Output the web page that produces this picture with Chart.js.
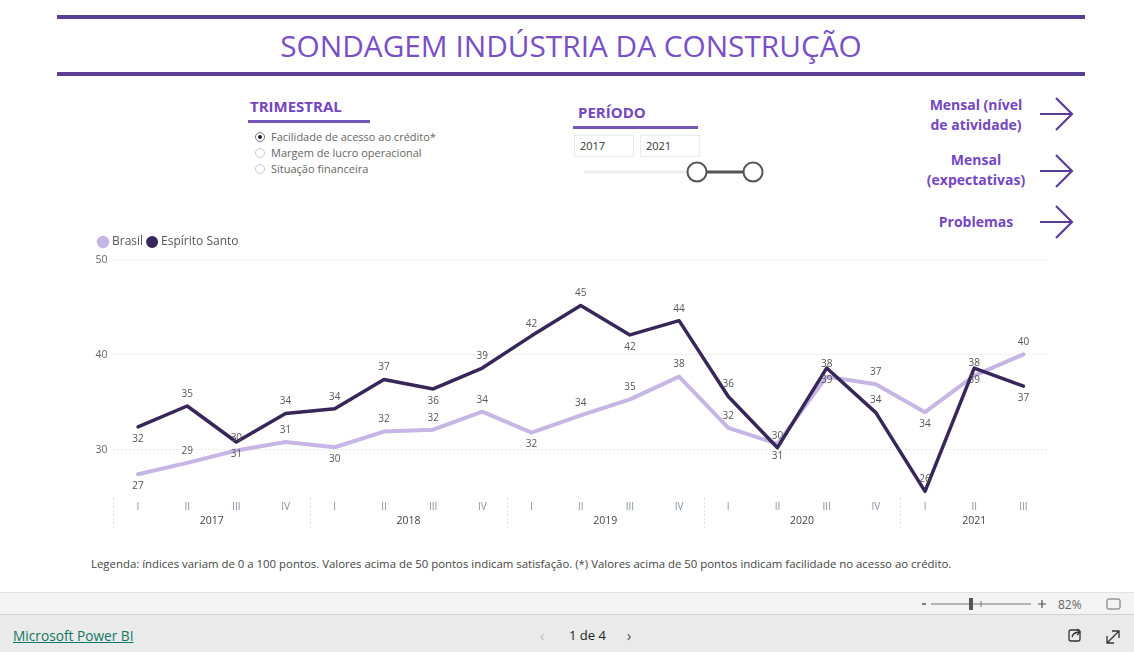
<!DOCTYPE html>
<html><head><meta charset="utf-8">
<script src="https://cdn.jsdelivr.net/npm/chart.js@4.4.1/dist/chart.umd.min.js"></script>
<style>
html,body{margin:0;padding:0;background:#fff;width:1134px;height:652px;overflow:hidden;font-family:'Segoe UI','Open Sans','Noto Sans',sans-serif;}
.abs{position:absolute;}
.bar{position:absolute;left:57px;width:1028px;height:4px;background:#5a3f96;}
#title{position:absolute;left:0;width:1142px;top:25px;text-align:center;font-size:29.8px;color:#7a4fc6;white-space:nowrap;}
.hdr{position:absolute;font-weight:700;font-size:15px;color:#7446c2;}
.uline{position:absolute;height:3px;background:#7456b8;}
.radio{position:absolute;left:255px;font-size:11px;color:#666;white-space:nowrap;}
.radio span.c{display:inline-block;width:8px;height:8px;border:1px solid #c8c8c8;border-radius:50%;vertical-align:-1px;margin-right:6px;position:relative;}
.radio span.c.on{border-color:#777;}
.radio span.c.on:after{content:'';position:absolute;left:2px;top:2px;width:4px;height:4px;border-radius:50%;background:#222;}
.inp{position:absolute;top:135px;width:60px;height:22px;border:1px solid #eaeaea;font-size:11px;color:#333;line-height:20px;padding-left:5px;box-sizing:border-box;}
.link{position:absolute;font-weight:700;font-size:14px;color:#7446c2;text-align:center;width:130px;line-height:20px;}
#note{position:absolute;left:91px;top:556px;font-size:11.4px;color:#444;white-space:nowrap;}
#chartbox{position:absolute;left:88px;top:232px;width:960px;height:315px;}
</style></head>
<body>
<div class="bar" style="top:15px"></div>
<div id="title">SONDAGEM INDÚSTRIA DA CONSTRUÇÃO</div>
<div class="bar" style="top:72px"></div>

<div class="hdr" style="left:250px;top:96px;">TRIMESTRAL</div>
<div class="uline" style="left:248px;top:120px;width:122px;"></div>
<div class="radio" style="top:129px;"><span class="c on"></span>Facilidade de acesso ao crédito*</div>
<div class="radio" style="top:145px;"><span class="c"></span>Margem de lucro operacional</div>
<div class="radio" style="top:161px;"><span class="c"></span>Situação financeira</div>

<div class="hdr" style="left:578px;top:102px;">PERÍODO</div>
<div class="uline" style="left:573px;top:126px;width:125px;"></div>
<div class="inp" style="left:574px;">2017</div>
<div class="inp" style="left:640px;">2021</div>
<svg class="abs" style="left:580px;top:158px" width="195" height="30">
<line x1="4" y1="14" x2="117" y2="14" stroke="#eeeeee" stroke-width="3"/>
<line x1="117" y1="14" x2="173" y2="14" stroke="#555" stroke-width="3"/>
<circle cx="117" cy="14" r="9.5" fill="#fff" stroke="#555" stroke-width="2"/>
<circle cx="173" cy="14" r="9.5" fill="#fff" stroke="#555" stroke-width="2"/>
</svg>

<div class="link" style="left:911px;top:95px;">Mensal (nível<br>de atividade)</div>
<div class="link" style="left:911px;top:150px;">Mensal<br>(expectativas)</div>
<div class="link" style="left:911px;top:212px;">Problemas</div>
<svg class="abs" style="left:1036px;top:94px" width="42" height="150">
<g fill="none" stroke="#5b3d99" stroke-width="2.2">
<path d="M4 20 H36 M20 4 L36 20 L20 36"/>
<path d="M4 77 H36 M20 61 L36 77 L20 93"/>
<path d="M4 128 H36 M20 112 L36 128 L20 144"/>
</g></svg>

<div id="chartbox"><canvas id="c"></canvas></div>

<div id="note">Legenda: índices variam de 0 a 100 pontos. Valores acima de 50 pontos indicam satisfação. (*) Valores acima de 50 pontos indicam facilidade no acesso ao crédito.</div>

<div class="abs" style="left:0;top:592px;width:1134px;height:23px;background:#f3f3f3;border-top:1px solid #e3e3e3;border-bottom:1px solid #d0d0d0;box-sizing:border-box;"></div>
<svg class="abs" style="left:915px;top:592px" width="219" height="23">
<line x1="7" y1="12" x2="11" y2="12" stroke="#555" stroke-width="1.5"/>
<line x1="16" y1="12" x2="116" y2="12" stroke="#777" stroke-width="1"/>
<rect x="54" y="6" width="4" height="12" fill="#555"/>
<line x1="66" y1="9" x2="66" y2="15" stroke="#777" stroke-width="1"/>
<path d="M123 12 H131 M127 8 V16" stroke="#555" stroke-width="1.2"/>
<text x="143" y="16.5" font-size="12" fill="#666" font-family="Segoe UI,Open Sans,sans-serif">82%</text>
<rect x="192" y="7" width="13" height="10" rx="1.5" fill="none" stroke="#666" stroke-width="1"/>
</svg>
<div class="abs" style="left:0;top:615px;width:1134px;height:37px;background:#eaeaea;"></div>
<div class="abs" style="left:13px;top:626px;font-size:13.7px;color:#117865;text-decoration:underline;">Microsoft Power BI</div>
<div class="abs" style="left:540px;top:626px;font-size:14px;color:#bbb;">‹</div>
<div class="abs" style="left:569px;top:626px;font-size:13px;color:#222;">1 de 4</div>
<div class="abs" style="left:627px;top:626px;font-size:14px;color:#444;">›</div>
<svg class="abs" style="left:1060px;top:624px" width="70" height="24">
<g fill="none" stroke="#333" stroke-width="1.3">
<rect x="9" y="6" width="11" height="11" rx="2"/>
<path d="M12 13 C13 9 16 8 20 8 M17 5 L20 8 L17 11"/>
<path d="M47 19 L59 7 M52 7 H59 V14 M47 12 V19 H54"/>
</g></svg>

<script>
const quarters = ['I','II','III','IV','I','II','III','IV','I','II','III','IV','I','II','III','IV','I','II','III'];
const years = ['2017','2017','2017','2017','2018','2018','2018','2018','2019','2019','2019','2019','2020','2020','2020','2020','2021','2021','2021'];
const brasil = [27.4, 28.6, 29.9, 30.8, 30.25, 31.9, 32.1, 34.0, 31.8, 33.6, 35.3, 37.7, 32.3, 30.6, 37.7, 36.9, 33.95, 37.8, 40.05];
const espiritoSanto = [32.4, 34.6, 30.8, 33.8, 34.3, 37.4, 36.4, 38.6, 42.0, 45.2, 42.1, 43.6, 35.6, 30.2, 38.6, 33.9, 25.6, 38.6, 36.7];
const yTicks = [30, 40, 50];
// label placement: 1 = above, -1 = below
const sideBrasil = [-1,1,1,1,-1,1,1,1,-1,1,1,1,1,-1,1,1,-1,1,1];
const sideES = [-1,1,-1,1,1,1,-1,1,1,1,-1,1,1,1,-1,1,1,-1,-1];

const valueLabels = {
  id:'valueLabels',
  afterLayout(chart){
    if (chart.legend) { chart.legend.left += 6; chart.legend.right += 6; chart.legend.top -= 2; chart.legend.bottom -= 2; }
  },
  afterDatasetsDraw(chart){
    const ctx = chart.ctx;
    ctx.save();
    ctx.font = '10px "Segoe UI","Open Sans",sans-serif';
    ctx.fillStyle = '#555';
    ctx.textAlign = 'center';
    ctx.textBaseline = 'middle';
    chart.data.datasets.forEach((ds, di) => {
      const meta = chart.getDatasetMeta(di);
      const sides = ds.labelSides;
      meta.data.forEach((pt, i) => {
        const v = ds.data[i];
        ctx.fillText(String(Math.round(v)), pt.x, pt.y - 12 * sides[i]);
      });
    });
    ctx.restore();
  }
};

const yearAxis = {
  id:'yearAxis',
  afterDraw(chart){
    const x = chart.scales.x, ctx = chart.ctx, area = chart.chartArea;
    const step = x.getPixelForValue(1) - x.getPixelForValue(0);
    ctx.save();
    ctx.font = '10.5px "Segoe UI","Open Sans",sans-serif';
    ctx.fillStyle = '#444';
    ctx.textAlign = 'center';
    ctx.textBaseline = 'middle';
    const groups = [];
    years.forEach((y, i) => {
      if (!groups.length || groups[groups.length-1].y !== y) groups.push({y, s:i, e:i});
      else groups[groups.length-1].e = i;
    });
    groups.forEach(g => {
      const cx = (x.getPixelForValue(g.s) + x.getPixelForValue(g.e)) / 2;
      ctx.fillText(g.y, cx, area.bottom + 24);
      const sx = x.getPixelForValue(g.s) - step/2;
      ctx.strokeStyle = '#d4d4d4';
      ctx.lineWidth = 1;
      ctx.setLineDash([1.5, 2.5]);
      ctx.beginPath();
      ctx.moveTo(Math.round(sx)+0.5, area.bottom + 1);
      ctx.lineTo(Math.round(sx)+0.5, area.bottom + 33);
      ctx.stroke();
    });
    ctx.restore();
  }
};

new Chart(document.getElementById('c'), {
  type:'line',
  data:{
    labels: quarters,
    datasets:[
      {label:'Brasil', data:brasil, borderColor:'#c6b6e6', backgroundColor:'#c6b6e6', borderWidth:4, pointRadius:0, pointHoverRadius:0, tension:0, order:1, labelSides:sideBrasil, borderCapStyle:'round', borderJoinStyle:'round'},
      {label:'Espírito Santo', data:espiritoSanto, borderColor:'#372658', backgroundColor:'#372658', borderWidth:3.5, pointRadius:0, pointHoverRadius:0, tension:0, order:0, labelSides:sideES, borderCapStyle:'round', borderJoinStyle:'round'}
    ]
  },
  options:{
    responsive:true, maintainAspectRatio:false, animation:false,
    layout:{padding:{left:0,right:0,top:0,bottom:0}},
    plugins:{
      legend:{display:true, position:'top', align:'start',
        labels:{usePointStyle:true, pointStyle:'circle', boxWidth:6, boxHeight:6, padding:6, color:'#555',
          sort:(a,b) => a.datasetIndex - b.datasetIndex,
          font:{size:12, family:'"Segoe UI","Open Sans",sans-serif'}}},
      tooltip:{enabled:false}
    },
    scales:{
      x:{
        offset:true,
        grid:{display:false, drawTicks:false},
        border:{display:false},
        ticks:{color:'#8592a3', font:{size:10, family:'"Segoe UI","Open Sans",sans-serif'}, padding:4, maxRotation:0, autoSkip:false},
        afterFit(s){ s.height = 50; }
      },
      y:{
        min:25, max:50,
        afterBuildTicks(s){ s.ticks = yTicks.map(v => ({value:v})); },
        grid:{color:'#d8d8d8', lineWidth:1, drawTicks:false},
        border:{display:false, dash:[1,3]},
        ticks:{color:'#666', font:{size:10.5, family:'"Segoe UI","Open Sans",sans-serif'}, padding:6},
        afterFit(s){ s.width = 25.4; }
      }
    }
  },
  plugins:[valueLabels, yearAxis]
});
</script>
</body></html>
